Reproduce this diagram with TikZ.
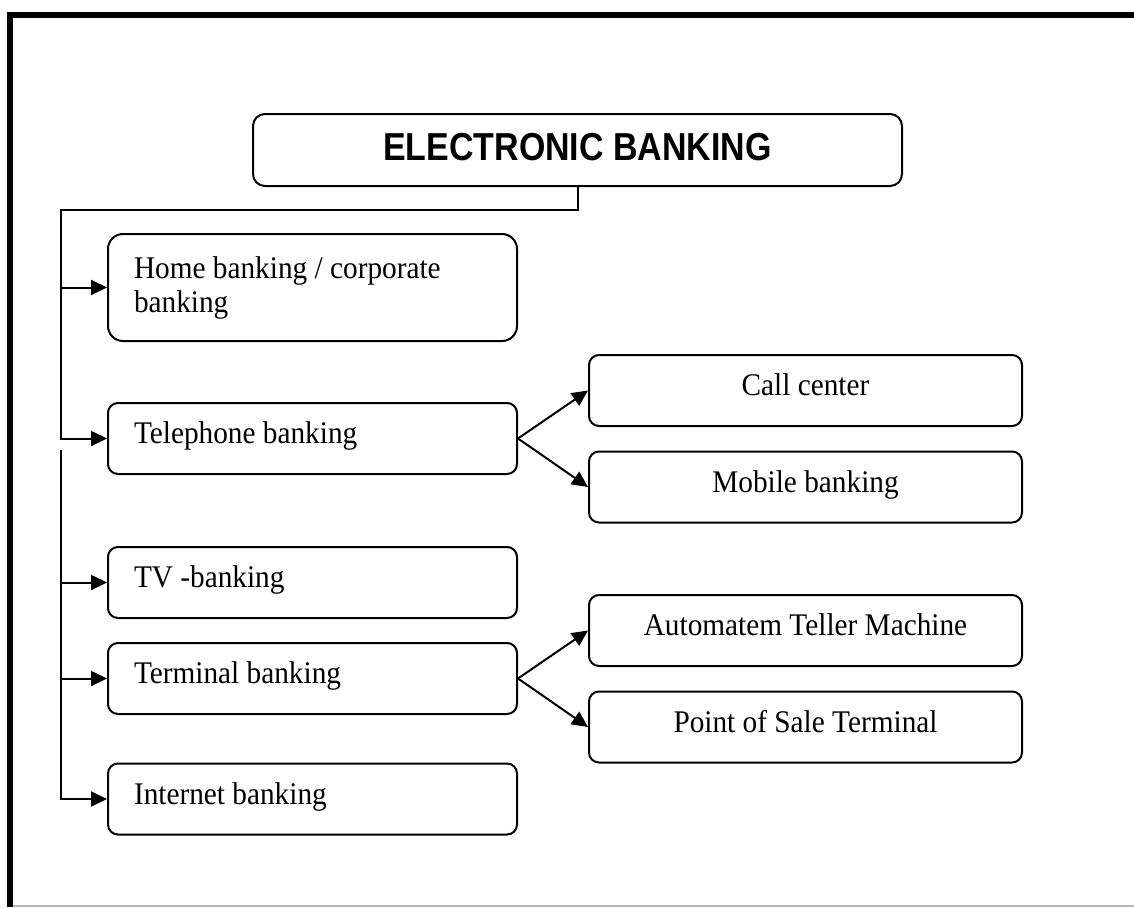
\documentclass[tikz,border=0pt]{standalone}
\usepackage{fontspec}
\setmainfont[FakeStretch=0.93]{Liberation Serif}
\newfontfamily\titlefont[FakeStretch=0.87]{Liberation Sans}
\usetikzlibrary{arrows.meta}
\begin{document}
\begin{tikzpicture}[x=1pt,y=-1pt,
  box/.style={draw, line width=2pt, rounded corners=10pt, minimum height=71pt,
    text height=20pt, text depth=10pt, inner sep=0pt,
    font=\fontsize{31.5}{34}\selectfont},
  lbox/.style={box, minimum width=409pt, text width=357pt, align=flush left, inner xsep=26pt},
  rbox/.style={box, minimum width=433pt, align=flush center},
  conn/.style={line width=2pt},
  arr/.style={conn, -{Triangle[length=16pt,width=15pt]}},
  frame/.style={line width=6.5pt}]
\useasboundingbox (0,0) rectangle (1134,907);
% page frame
\draw[frame] (10,907) -- (10,15.25) -- (1134,15.25);
\draw[black!28, line width=1.5pt] (13,906) -- (1134,906);
% title
\node[draw, line width=2pt, rounded corners=12pt, minimum width=649pt, minimum height=72pt,
  inner sep=0pt, text depth=7pt, font=\titlefont\bfseries\fontsize{39}{40}\selectfont]
  (title) at (577.5,150) {ELECTRONIC BANKING};
% left boxes
\node[lbox, minimum height=107pt, rounded corners=15pt, text height={}, text depth={}]
  (home) at (312.5,287.5) {Home banking / corporate\\banking};
\node[lbox] (tel) at (312.5,438.5) {Telephone banking};
\node[lbox] (tv) at (312.5,582.5) {TV -banking};
\node[lbox] (term) at (312.5,678.5) {Terminal banking};
\node[lbox] (inet) at (312.5,799) {Internet banking};
% right boxes
\node[rbox] (call) at (805.5,390.5) {Call center};
\node[rbox] (mob) at (805.5,487) {Mobile banking};
\node[rbox] (atm) at (805.5,630.5) {Automatem Teller Machine};
\node[rbox] (pos) at (805.5,727) {Point of Sale Terminal};
% trunk
\coordinate (j1) at (61,210);
\coordinate (j2) at (61,450);
\draw[arr] (title.south) -- (title.south |- j1) -- (j1) |- (tel.west);
\draw[arr] (j2) |- (inet.west);
\draw[arr] (j1 |- home.west) -- (home.west);
\draw[arr] (j1 |- tv.west) -- (tv.west);
\draw[arr] (j1 |- term.west) -- (term.west);
% fans
\draw[arr] (tel.east) -- (call.west);
\draw[arr] (tel.east) -- (mob.west);
\draw[arr] (term.east) -- (atm.west);
\draw[arr] (term.east) -- (pos.west);
\end{tikzpicture}
\end{document}
